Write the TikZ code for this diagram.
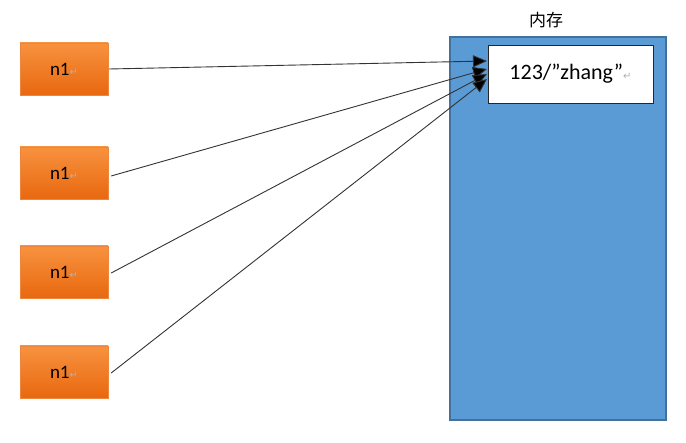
\documentclass[tikz,border=0pt]{standalone}
\usepackage{fontspec}
\setmainfont{Carlito}
\newfontfamily\symfont{DejaVu Sans}
\newfontfamily\cjk{Noto Sans CJK SC}
\usetikzlibrary{arrows.meta}
\definecolor{orTop}{HTML}{F8923F}
\definecolor{orBot}{HTML}{E8680F}
\definecolor{memFill}{HTML}{5B9BD5}
\definecolor{memLine}{HTML}{41719C}
\definecolor{lineGray}{HTML}{333333}
\newcommand{\pmark}{{\symfont\fontsize{10}{10}\selectfont\color{gray!60}↵}}
\begin{document}
\begin{tikzpicture}[x=1pt,y=-1pt,
  varbox/.style={draw=orBot!80!white, line width=0.4pt, top color=orTop, bottom color=orBot,
    minimum width=88pt, minimum height=52pt, inner sep=0pt, font=\fontsize{19}{19}\selectfont},
  membox/.style={draw=memLine, line width=1.2pt, fill=memFill, minimum width=216pt, minimum height=383pt, inner sep=0pt},
  valbox/.style={draw=black!85, line width=0.8pt, fill=white, minimum width=165pt, minimum height=58pt, inner sep=0pt, font=\fontsize{22}{22}\selectfont},
  ptr/.style={draw=lineGray, line width=0.9pt, -{Triangle[length=14pt,width=12pt,fill=black]}}]
\useasboundingbox (0,0) rectangle (686,443);
\node[membox] (mem) at (558,228.5) {};
\node[font=\cjk\fontsize{17}{17}\selectfont] (memlabel) at (546,20) {内存};
\node[valbox] (val) at (570.5,74) {123/”zhang”\pmark};
\node[varbox] (n1) at (64,69) {n1\pmark};
\node[varbox] (n2) at (64,173) {n1\pmark};
\node[varbox] (n3) at (64,272) {n1\pmark};
\node[varbox] (n4) at (64,372) {n1\pmark};
\coordinate (t1) at (487,61);
\coordinate (t2) at (487,69);
\coordinate (t3) at (487,74);
\coordinate (t4) at (487,79);
\draw[ptr] ([xshift=1pt,yshift=0pt]n1.east) -- (t1);
\draw[ptr] ([xshift=3pt,yshift=-3pt]n2.east) -- (t2);
\draw[ptr] ([xshift=3pt,yshift=-1pt]n3.east) -- (t3);
\draw[ptr] ([xshift=3pt,yshift=-1pt]n4.east) -- (t4);
\end{tikzpicture}
\end{document}
